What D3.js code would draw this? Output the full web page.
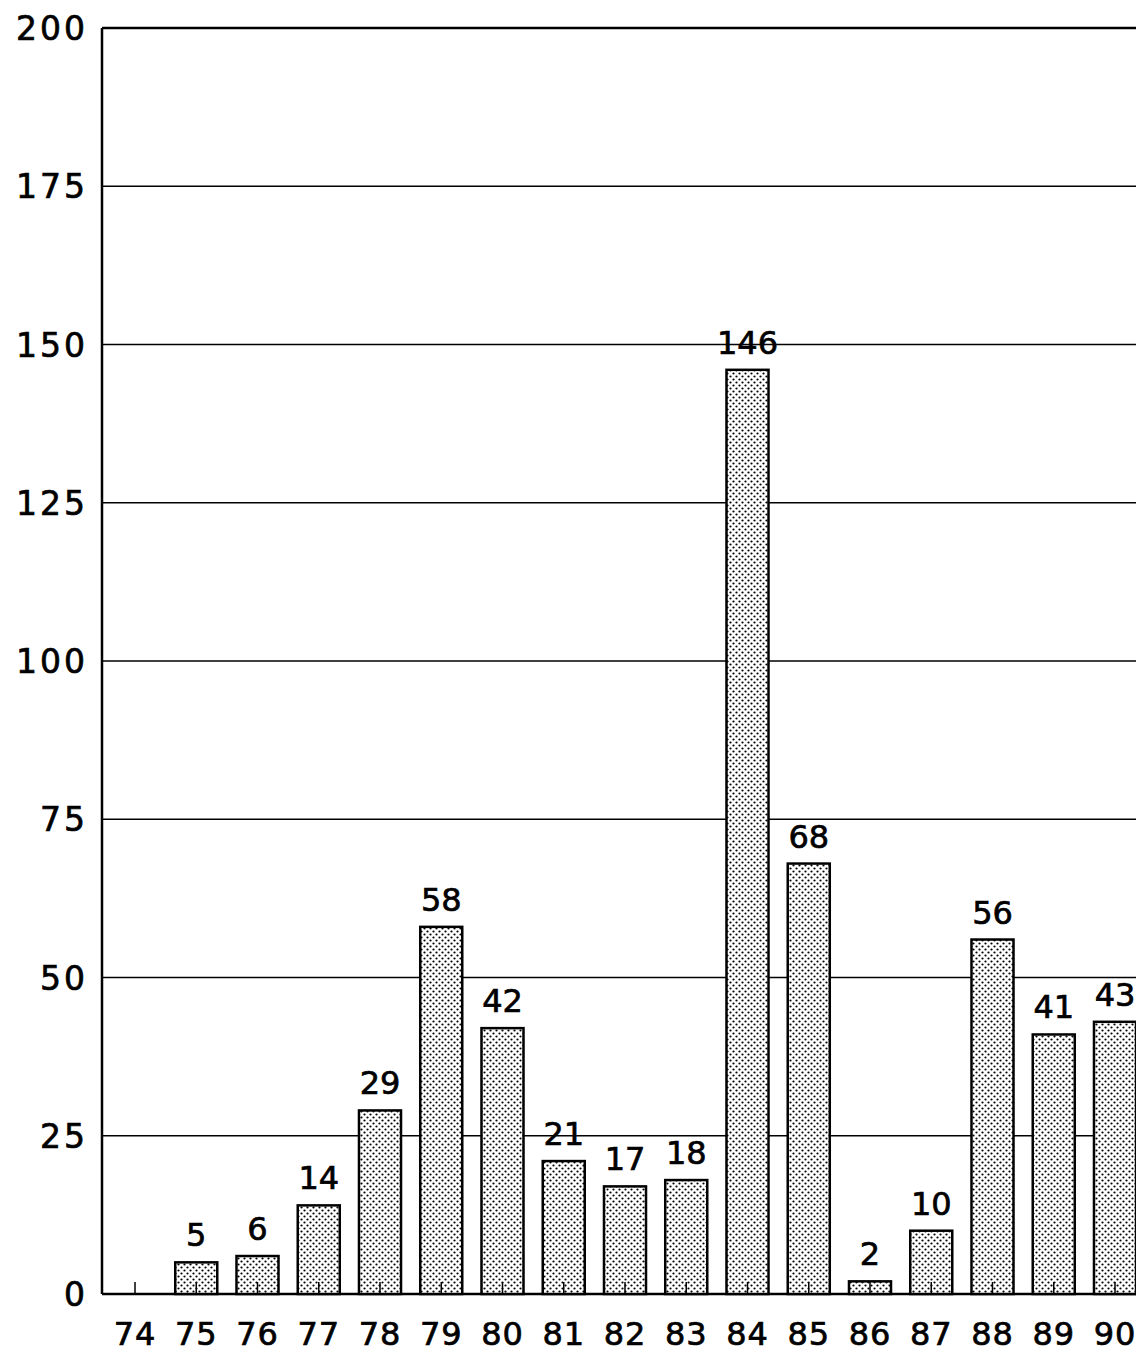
<!DOCTYPE html>
<html>
<head>
<meta charset="utf-8">
<script src="https://cdn.jsdelivr.net/npm/d3@7"></script>
<style>
body { margin: 0; background: #fff; }
svg text { font-family: "DejaVu Sans", sans-serif; fill: #000; stroke: #000; stroke-width: 0.7px; }
</style>
</head>
<body>
<div class="demo"></div>
<script>
// years on the x axis
var years = ['74','75','76','77','78','79','80','81','82','83','84','85','86','87','88','89','90'];
// count per year
var counts = [0, 5, 6, 14, 29, 58, 42, 21, 17, 18, 146, 68, 2, 10, 56, 41, 43];
var yTicks = [0, 25, 50, 75, 100, 125, 150, 175, 200];

var w = 1136, h = 1353;
var padLeft = 102, padTop = 28, baseY = 1294;

// rows for the bars (year 74 has no bar)
var rows = years.map(function(y, i){ return {year: y, count: counts[i]}; })
  .filter(function(d){ return d.count > 0; });

var svg = d3.select('.demo').append('svg').attr('width', w).attr('height', h);

// dot pattern for the bars
var defs = svg.append('defs');
var pat = defs.append('pattern').attr('id', 'dots').attr('patternUnits', 'userSpaceOnUse')
  .attr('width', 6).attr('height', 6);
pat.append('rect').attr('width', 6).attr('height', 6).attr('fill', '#fff');
pat.append('circle').attr('cx', 1.5).attr('cy', 1.5).attr('r', 1.1).attr('fill', '#000');
pat.append('circle').attr('cx', 4.5).attr('cy', 4.5).attr('r', 1.1).attr('fill', '#000');

var step = 61.25;
var xScale = d3.scaleBand()
  .domain(years)
  .range([135 - step / 2, 135 - step / 2 + step * years.length])
  .paddingInner(0.314)
  .paddingOuter(0.157);
var bw = xScale.bandwidth();

var yScale = d3.scaleLinear().domain([0, 200]).range([baseY, padTop]);

// grid lines
svg.append('g').selectAll('line').data(yTicks).enter().append('line')
  .attr('x1', padLeft).attr('x2', w)
  .attr('y1', function(d){ return yScale(d); })
  .attr('y2', function(d){ return yScale(d); })
  .attr('stroke', '#000')
  .attr('stroke-width', function(d){ return (d === 0 || d === 200) ? 2.5 : 1.5; });

// left axis line
svg.append('line').attr('x1', padLeft).attr('x2', padLeft).attr('y1', padTop).attr('y2', baseY)
  .attr('stroke', '#000').attr('stroke-width', 2.5);

// y tick labels
svg.append('g').selectAll('text').data(yTicks).enter().append('text')
  .text(function(d){ return d; })
  .attr('x', 88).attr('y', function(d){ return yScale(d) + 12; })
  .attr('text-anchor', 'end')
  .attr('font-size', '33px')
  .attr('letter-spacing', '3px');

// bars
svg.append('g').selectAll('rect').data(rows).enter().append('rect')
  .attr('x', function(d){ return xScale(d.year); })
  .attr('y', function(d){ return yScale(d.count); })
  .attr('width', bw)
  .attr('height', function(d){ return baseY - yScale(d.count); })
  .attr('fill', 'url(#dots)')
  .attr('stroke', '#000')
  .attr('stroke-width', 2.5);

// small ticks at category centers
svg.append('g').selectAll('line').data(years).enter().append('line')
  .attr('x1', function(d){ return xScale(d) + bw / 2; })
  .attr('x2', function(d){ return xScale(d) + bw / 2; })
  .attr('y1', baseY).attr('y2', baseY - 12)
  .attr('stroke', '#000').attr('stroke-width', 1.5);

// value labels
svg.append('g').selectAll('text').data(rows).enter().append('text')
  .text(function(d){ return d.count; })
  .attr('x', function(d){ return xScale(d.year) + bw / 2; })
  .attr('y', function(d){ return yScale(d.count) - 16; })
  .attr('text-anchor', 'middle')
  .attr('font-size', '32px');

// x tick labels
svg.append('g').selectAll('text').data(years).enter().append('text')
  .text(function(d){ return d; })
  .attr('x', function(d){ return xScale(d) + bw / 2; })
  .attr('y', 1345)
  .attr('text-anchor', 'middle')
  .attr('font-size', '32px')
  .attr('letter-spacing', '1px');
</script>
</body>
</html>
